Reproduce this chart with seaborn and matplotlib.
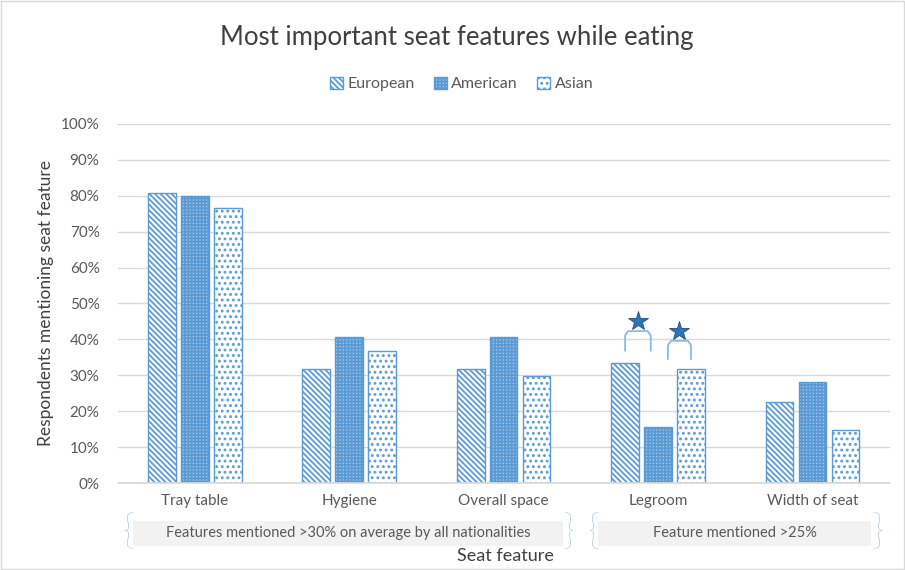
import matplotlib
matplotlib.use("Agg")
import matplotlib.pyplot as plt
import seaborn as sns
import pandas as pd
from matplotlib.patches import Rectangle, Patch

categories = ["Tray table", "Hygiene", "Overall space", "Legroom", "Width of seat"]
european = [0.807, 0.318, 0.318, 0.334, 0.226]
american = [0.800, 0.407, 0.407, 0.156, 0.281]
asian = [0.766, 0.368, 0.298, 0.318, 0.148]
series = ["European", "American", "Asian"]
yticks = [i / 10 for i in range(11)]
ytick_labels = [f"{i*10}%" for i in range(11)]
group_notes = ["Features mentioned >30% on average by all nationalities", "Feature mentioned >25%"]

df = pd.DataFrame({
    "Seat feature": categories * 3,
    "value": european + american + asian,
    "Nationality": [s for s in series for _ in categories],
})

sns.set_theme(style="white")
plt.rcParams["font.family"] = ["Lato", "DejaVu Sans"]
plt.rcParams["hatch.linewidth"] = 1.3

BLUE = "#5B9BD5"
GREY = "#595959"

fig = plt.figure(figsize=(9.05, 5.70), dpi=100)
ax = fig.add_axes([0.130, 0.1526, 0.853, 0.630])

sns.barplot(data=df, x="Seat feature", y="value", hue="Nationality",
            order=categories, hue_order=series, width=0.64, gap=0.16,
            ax=ax, legend=False, errorbar=None)

styles = {
    "European": dict(face="white", hatch="\\\\\\\\\\\\"),
    "American": dict(face="#9DC3E6", hatch="+++++"),
    "Asian": dict(face="white", hatch="..."),
}
bars = [p for p in ax.patches if isinstance(p, Rectangle)]
for i, p in enumerate(bars[:15]):
    s = styles[series[i // len(categories)]]
    p.set_facecolor(s["face"])
    p.set_edgecolor(BLUE)
    p.set_hatch(s["hatch"])
    p.set_linewidth(1.0)

ax.set_ylim(0, 1)
ax.set_xlim(-0.5, len(categories) - 0.5)
ax.set_yticks(yticks)
ax.set_yticklabels(ytick_labels, color=GREY, fontsize=11)
ax.tick_params(axis="x", labelsize=11, colors=GREY, length=0, pad=8)
ax.tick_params(axis="y", length=0, pad=13)
ax.grid(axis="y", color="#D9D9D9", linewidth=1)
ax.set_axisbelow(True)
for s in ["top", "right", "left"]:
    ax.spines[s].set_visible(False)
ax.spines["bottom"].set_color("#D9D9D9")
ax.set_xlabel("")
ax.set_ylabel("Respondents mentioning seat feature", fontsize=12.5, color="#404040", labelpad=5)

# significance brackets on Legroom
li = categories.index("Legroom")
def bar_center(si):
    p = bars[si * len(categories) + li]
    return p.get_x() + p.get_width() / 2
xe, xa, xs = bar_center(0), bar_center(1), bar_center(2)
d = xa - xe
brackets = [
    (xe, xa - 0.22 * d, 0.423, 0.368, 0.451),
    (xa + 0.30 * d, xs, 0.396, 0.345, 0.424),
]
for (x0, x1, top, leg, star) in brackets:
    r = 0.012
    ax.plot([x0, x0, x0 + 0.02, x1 - 0.02, x1, x1],
            [leg, top - r, top, top, top - r, leg],
            color="#8EB8E5", lw=1.3, solid_joinstyle="round")
    ax.plot([(x0 + x1) / 2], [star], marker="*", markersize=15, color="#2E75B6",
            markeredgecolor="#1F4E79", markeredgewidth=0.6)

# group note boxes
fig.patches.append(Rectangle((133 / 905, 1 - 546 / 570), (563 - 133) / 905, 25 / 570,
                             transform=fig.transFigure, facecolor="#F2F2F2", edgecolor="none"))
fig.patches.append(Rectangle((598 / 905, 1 - 546 / 570), (871 - 598) / 905, 25 / 570,
                             transform=fig.transFigure, facecolor="#F2F2F2", edgecolor="none"))
for xl, xr, txt in [(128, 568, group_notes[0]), (593, 877, group_notes[1])]:
    y = 1 - 533 / 570
    fig.text(xl / 905, y, "{", color="#7FB0E0", fontsize=30, ha="center", va="center",
             family=["Lato", "DejaVu Sans"], fontweight="light")
    fig.text(xr / 905, y, "}", color="#7FB0E0", fontsize=30, ha="center", va="center",
             family=["Lato", "DejaVu Sans"], fontweight="light")
    fig.text((xl + xr) / 2 / 905, y, txt, color=GREY, fontsize=10.5, ha="center", va="center")

fig.text(0.558, 1 - 556 / 570, "Seat feature", fontsize=13, color="#404040", ha="center", va="center")
fig.text(0.505, 1 - 38 / 570, "Most important seat features while eating", fontsize=18.5,
         color="#404040", ha="center", va="center")

handles = [Patch(facecolor=styles[s]["face"], edgecolor=BLUE, hatch=styles[s]["hatch"], label=s)
           for s in series]
fig.legend(handles=handles, loc="center", bbox_to_anchor=(0.51, 1 - 84 / 570), ncol=3,
           frameon=False, fontsize=11.5, handlelength=0.8, handleheight=0.8,
           handletextpad=0.3, columnspacing=1.2, labelcolor=GREY)

fig.patches.append(Rectangle((0.001, 0.001), 0.998, 0.998, transform=fig.transFigure,
                             facecolor="none", edgecolor="#D9D9D9", linewidth=1))

fig.savefig("out.png", dpi=100)
